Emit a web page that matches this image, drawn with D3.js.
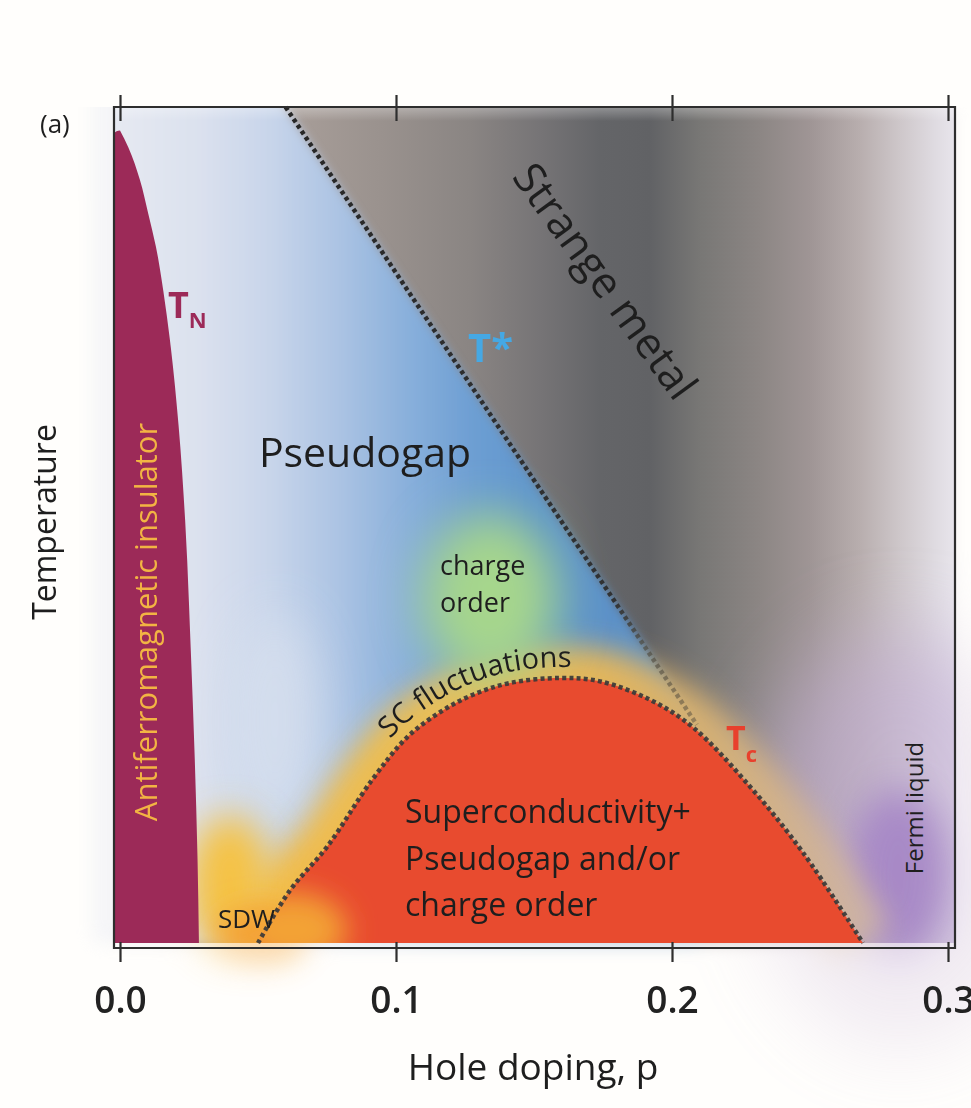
<!DOCTYPE html>
<html><head><meta charset="utf-8">
<script src="https://cdn.jsdelivr.net/npm/d3@7"></script>
<style>
html,body{margin:0;padding:0;background:#fffefc;}
svg{display:block;}
text{font-family:"Open Sans","Noto Sans",sans-serif;}
</style></head><body>
<svg id="chart" width="971" height="1108"></svg>
<script>
// Hole-doping axis
const xTicks = [0, 0.1, 0.2, 0.3];
const xTickLabels = ["0.0", "0.1", "0.2", "0.3"];

// Néel line bounding the antiferromagnetic insulator (temperature in arbitrary units)
const tnDoping = [0.0, 0.0030, 0.0072, 0.0102, 0.0130, 0.0157, 0.0181, 0.0212, 0.0236, 0.0256, 0.0271, 0.0281, 0.0286];
const tnTemp   = [0.972, 0.952, 0.913, 0.873, 0.833, 0.780, 0.721, 0.620, 0.506, 0.354, 0.219, 0.099, 0.0];

// Superconducting dome Tc(p)
const tcDoping = [0.050, 0.0616, 0.0750, 0.0913, 0.1040, 0.1159, 0.1279, 0.1413, 0.1594, 0.1739, 0.1920, 0.2076, 0.2283, 0.2475, 0.2692];
const tcTemp   = [0.0, 0.063, 0.115, 0.195, 0.246, 0.276, 0.297, 0.311, 0.317, 0.313, 0.291, 0.258, 0.187, 0.108, 0.0];

// Pseudogap crossover T*(p)
const tStarDoping = [0.060, 0.209];
const tStarTemp   = [1.0, 0.261];

const W = 971, H = 1108;
const svg = d3.select("#chart");
const x = d3.scaleLinear().domain([0, 0.3]).range([120, 948]);
const y = d3.scaleLinear().domain([0, 1]).range([943, 107]);
const plot = {left: x(0) - 6, right: x(0.3) + 7, top: y(1), bottom: y(0)};
const axisY = y(0) + 5;

const tnPts = tnDoping.map((p, i) => [p, tnTemp[i]]);
const tcPts = tcDoping.map((p, i) => [p, tcTemp[i]]);
const tStarPts = tStarDoping.map((p, i) => [p, tStarTemp[i]]);

const curve = d3.line().x(d => x(d[0])).y(d => y(d[1])).curve(d3.curveCatmullRom.alpha(0.5));
const straight = d3.line().x(d => x(d[0])).y(d => y(d[1]));
const tnCurve = d3.line().x(d => x(d[0])).y(d => y(d[1])).curve(d3.curveMonotoneY);

const defs = svg.append("defs");
function blur(id, s) {
  defs.append("filter").attr("id", id)
    .attr("x", "-60%").attr("y", "-60%").attr("width", "220%").attr("height", "220%")
    .append("feGaussianBlur").attr("stdDeviation", s);
}
blur("b5", 5); blur("b8", 8); blur("b14", 14); blur("b18", 18); blur("b24", 24); blur("b40", 40);

function hGrad(id, x1, x2, stops) {
  const g = defs.append("linearGradient").attr("id", id)
    .attr("gradientUnits", "userSpaceOnUse")
    .attr("x1", x1).attr("x2", x2).attr("y1", 0).attr("y2", 0);
  stops.forEach(s => g.append("stop")
    .attr("offset", (s[0] - x1) / (x2 - x1)).attr("stop-color", s[1]));
}
// strange-metal greys
hGrad("metalGrad", plot.left, plot.right, [
  [plot.left, "#c8c2c0"], [290, "#a89e99"], [380, "#9a928e"], [470, "#8a8583"],
  [540, "#767476"], [600, "#646568"], [650, "#616265"], [700, "#787775"],
  [760, "#8c8684"], [810, "#9f9595"], [860, "#b8aeae"], [900, "#cec7ca"],
  [935, "#dfdbe1"], [plot.right, "#e8e5ec"]
]);
// pseudogap blues
hGrad("pgGrad", plot.left, 640, [
  [plot.left, "#e6e9f2"], [200, "#dbe1ee"], [270, "#c8d5ea"], [340, "#abc3e3"],
  [410, "#88afdb"], [470, "#6e9fd3"], [540, "#5d94cc"], [640, "#5c90c6"]
]);
// halo round the dome
hGrad("haloGrad", 240, 880, [
  [240, "#f5b93e"], [450, "#efc052"], [600, "#eab855"], [700, "#d9b272"], [880, "#cdb4a8"]
]);
// T* dots fade where they cross the halo
const tsG = defs.append("linearGradient").attr("id", "tStarGrad")
  .attr("gradientUnits", "userSpaceOnUse")
  .attr("x1", x(tStarDoping[0])).attr("y1", y(tStarTemp[0]))
  .attr("x2", x(tStarDoping[1])).attr("y2", y(tStarTemp[1]));
[[0, "#262626", 1], [0.8, "#2e2e2e", 0.95], [0.87, "#4a4538", 0.6], [1, "#5a5040", 0.5]]
  .forEach(s => tsG.append("stop").attr("offset", s[0]).attr("stop-color", s[1]).attr("stop-opacity", s[2]));
// top edge haze
const topFade = defs.append("linearGradient").attr("id", "topFade").attr("x1", 0).attr("x2", 0).attr("y1", 0).attr("y2", 1);
topFade.append("stop").attr("offset", 0).attr("stop-color", "#fff").attr("stop-opacity", 0.3);
topFade.append("stop").attr("offset", 1).attr("stop-color", "#fff").attr("stop-opacity", 0);

defs.append("clipPath").attr("id", "plotClip").append("rect")
  .attr("x", plot.left).attr("y", plot.top)
  .attr("width", plot.right - plot.left).attr("height", plot.bottom - plot.top);
defs.append("clipPath").attr("id", "bleedClip").append("rect")
  .attr("x", 0).attr("y", plot.top).attr("width", W).attr("height", H - plot.top);

const domeD = curve(tcPts) + "Z";
defs.append("clipPath").attr("id", "domeClip").append("path").attr("d", domeD);

// ---------- soft colour field ----------
const bg = defs.append("g").attr("id", "field");
bg.append("rect").attr("x", plot.left).attr("y", plot.top)
  .attr("width", plot.right - plot.left).attr("height", plot.bottom - plot.top)
  .attr("fill", "url(#metalGrad)");
// Fermi-liquid lavender
bg.append("ellipse").attr("cx", 900).attr("cy", 840).attr("rx", 150).attr("ry", 210)
  .attr("fill", "#c2aed4").attr("opacity", 0.6).attr("filter", "url(#b40)");
bg.append("ellipse").attr("cx", 898).attr("cy", 875).attr("rx", 50).attr("ry", 85)
  .attr("fill", "#a585c6").attr("opacity", 0.9).attr("filter", "url(#b18)");
// pseudogap region, left of T*
const pgPoly = [[-0.01, 1.03], [tStarDoping[0] - 0.03 / 4.9, 1.03], tStarPts[1],
                [tStarDoping[1], 0], [-0.01, 0]];
bg.append("path").attr("d", straight(pgPoly) + "Z")
  .attr("fill", "url(#pgGrad)").attr("filter", "url(#b5)");
// pale patches
bg.append("ellipse").attr("cx", 275).attr("cy", 720).attr("rx", 45).attr("ry", 110)
  .attr("fill", "#d6dfee").attr("opacity", 0.85).attr("filter", "url(#b24)");
bg.append("rect").attr("x", plot.left).attr("y", plot.top).attr("width", plot.right - plot.left).attr("height", 14)
  .attr("fill", "url(#topFade)");
// superconducting-fluctuation halo
bg.append("path").attr("d", curve(tcPts)).attr("fill", "none")
  .attr("stroke", "url(#haloGrad)").attr("stroke-width", 64).attr("opacity", 0.95)
  .attr("filter", "url(#b14)");
// charge order
bg.append("ellipse").attr("cx", 490).attr("cy", 598).attr("rx", 68).attr("ry", 84)
  .attr("fill", "#a6d68c").attr("filter", "url(#b24)");
// SDW
bg.append("ellipse").attr("cx", 230).attr("cy", 885).attr("rx", 42).attr("ry", 70)
  .attr("fill", "#f5c244").attr("filter", "url(#b18)");
bg.append("ellipse").attr("cx", 262).attr("cy", 935).attr("rx", 45).attr("ry", 28)
  .attr("fill", "#f4a234").attr("filter", "url(#b14)");

// bleed past the frame (not above it), then the clipped field
svg.append("g").attr("clip-path", "url(#bleedClip)")
  .append("use").attr("href", "#field").attr("filter", "url(#b8)").attr("opacity", 0.4);
svg.append("g").attr("clip-path", "url(#plotClip)").append("use").attr("href", "#field");

// ---------- phases ----------
const phases = svg.append("g").attr("clip-path", "url(#plotClip)");
// superconducting dome
phases.append("path").attr("d", domeD).attr("fill", "#e84b2f");
phases.append("g").attr("clip-path", "url(#domeClip)")
  .append("ellipse").attr("cx", 292).attr("cy", 930).attr("rx", 55).attr("ry", 38)
  .attr("fill", "#f3a236").attr("filter", "url(#b14)");
// antiferromagnetic insulator: Néel line on the right, frame on the left
const afEdge = tnCurve(tnPts);
const afD = `M${x(-0.003)},${y(0)}V${y(0.955)}Q${x(-0.003)},${y(tnTemp[0])} ${x(0)},${y(tnTemp[0])}`
  + afEdge.replace(/^M/, "L") + "Z";
phases.append("path").attr("d", afD).attr("fill", "#9c2a58");

// ---------- crossover lines ----------
svg.append("path").attr("d", straight(tStarPts)).attr("fill", "none")
  .attr("stroke", "url(#tStarGrad)").attr("stroke-width", 4.5).attr("stroke-dasharray", "4 3.2");
svg.append("path").attr("d", curve(tcPts)).attr("fill", "none")
  .attr("stroke", "#3a3a3a").attr("stroke-opacity", 0.92)
  .attr("stroke-width", 4.5).attr("stroke-dasharray", "4 3.2");

// ---------- frame and axes ----------
svg.append("path").attr("d", `M${plot.left},${plot.top}H${plot.right}V${axisY}H${plot.left}Z`)
  .attr("stroke", "#2e2e2e").attr("stroke-width", 2.2).attr("fill", "none");

const bottomAxis = svg.append("g").attr("transform", `translate(0,${axisY})`)
  .call(d3.axisBottom(x).tickValues(xTicks).tickFormat((d, i) => xTickLabels[i]).tickSize(14).tickPadding(0));
bottomAxis.select(".domain").remove();
bottomAxis.selectAll(".tick line").attr("y1", -6).attr("y2", 14).attr("stroke", "#2e2e2e").attr("stroke-width", 2.2);
bottomAxis.selectAll(".tick text").attr("y", 65).attr("dy", 0)
  .attr("font-size", 37).attr("font-weight", 600).attr("fill", "#222")
  .attr("font-family", "Open Sans, Noto Sans, sans-serif");

const topAxis = svg.append("g").attr("transform", `translate(0,${plot.top})`)
  .call(d3.axisTop(x).tickValues(xTicks).tickFormat(""));
topAxis.select(".domain").remove();
topAxis.selectAll(".tick line").attr("y1", -12).attr("y2", 14).attr("stroke", "#2e2e2e").attr("stroke-width", 2.2);

// ---------- text ----------
const ink = "#1e1e1e";
function label(txt, px, py, size, opts = {}) {
  const t = svg.append("text").attr("x", px).attr("y", py).attr("font-size", size)
    .attr("fill", opts.fill || ink).attr("font-weight", opts.weight || 400)
    .attr("text-anchor", opts.anchor || "start");
  if (opts.rotate != null) t.attr("transform", `rotate(${opts.rotate},${px},${py})`);
  t.text(txt);
  return t;
}
label("(a)", 40, 133, 26);
label("Hole doping, p", 533, 1080, 37, {anchor: "middle"});
label("Temperature", 56, 522, 32, {anchor: "middle", rotate: -90});
label("Antiferromagnetic insulator", 157, 622, 31, {anchor: "middle", rotate: -90, fill: "#f2b443"});
label("Pseudogap", 365, 467, 41, {anchor: "middle"});
label("Strange metal", 593, 290, 43, {anchor: "middle", rotate: 54});
label("charge", 440, 575, 27);
label("order", 440, 612, 27);
label("Superconductivity+", 405, 823, 32);
label("Pseudogap and/or", 405, 870, 32);
label("charge order", 405, 916, 32);
label("SDW", 218, 928, 26);
label("Fermi liquid", 923, 808, 24, {anchor: "middle", rotate: -90});

label("T*", 468, 362, 40, {fill: "#45a8e4", weight: 700});
const tn = label("T", 168, 318, 36, {fill: "#9c2a58", weight: 700});
tn.append("tspan").attr("font-size", 22).attr("dy", 10).text("N");
const tc = label("T", 726, 750, 34, {fill: "#e8402d", weight: 700});
tc.append("tspan").attr("font-size", 22).attr("dy", 12).text("c");

// "SC fluctuations" rides just above the dome
const probe = svg.append("path").attr("d", curve(tcPts)).attr("fill", "none").attr("stroke", "none");
const node = probe.node(), L = node.getTotalLength();
const offPts = [];
for (let s = 0; s <= L; s += 2) {
  const a = node.getPointAtLength(Math.max(0, s - 1)), b = node.getPointAtLength(Math.min(L, s + 1));
  const p = node.getPointAtLength(s);
  const dx = b.x - a.x, dy = b.y - a.y, n = Math.hypot(dx, dy) || 1;
  if (p.x >= 398 && p.x <= 680) offPts.push([p.x + dy / n * 11, p.y - dx / n * 11]);
}
probe.remove();
defs.append("path").attr("id", "scPath").attr("d", d3.line().curve(d3.curveBasis)(offPts));
svg.append("text").attr("font-size", 29).attr("fill", ink)
  .append("textPath").attr("href", "#scPath").attr("startOffset", 0).text("SC fluctuations");
</script>
</body></html>
